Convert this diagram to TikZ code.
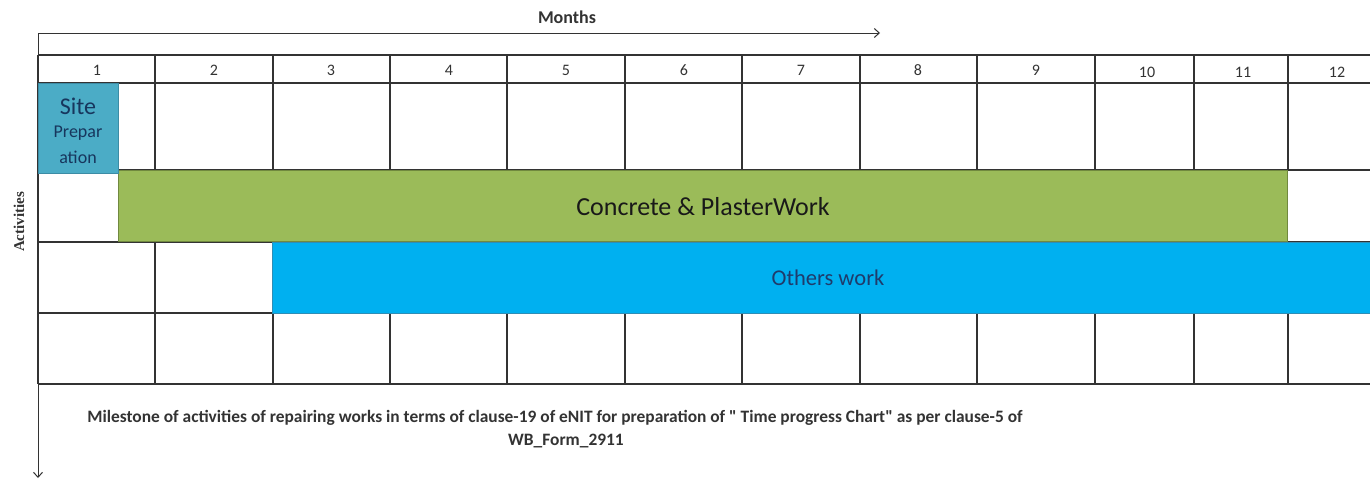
\documentclass[tikz,border=0pt]{standalone}
\usepackage{fontspec}
\setmainfont{Carlito}[Ligatures=TeXOff]
\newfontfamily\serifbold{Liberation Serif}
\usetikzlibrary{arrows.meta}
\definecolor{siteblue}{HTML}{4BACC6}
\definecolor{sitedraw}{HTML}{3C8CA5}
\definecolor{barGreen}{HTML}{9BBB59}
\definecolor{greenDraw}{HTML}{71893F}
\definecolor{barBlue}{HTML}{00B0F0}
\definecolor{blueDraw}{HTML}{2F8DB5}
\definecolor{gridline}{HTML}{333333}
\definecolor{navytext}{HTML}{17365D}
\definecolor{othertext}{HTML}{1F3B6B}
\begin{document}
\begin{tikzpicture}[x=1pt,y=-1pt,
  gridl/.style={draw=gridline,line width=1.3pt},
  axisl/.style={draw=gridline,line width=1pt,-{Straight Barb[length=5pt,width=9pt]}},
  monthlbl/.style={font=\fontsize{16}{18}\selectfont,text=gridline,inner sep=0pt},
  captxt/.style={font=\bfseries\fontsize{17.4}{20}\selectfont,text=gridline,inner sep=0pt},
  barbox/.style={line width=1.3pt,inner sep=0pt,anchor=north west}]
\useasboundingbox (0,0) rectangle (1370,483);
% axes
\coordinate (origin) at (38,33);
\coordinate (xend) at (880,33);
\coordinate (yend) at (38,478);
\draw[axisl] (origin) -- (xend);
\draw[axisl] (origin) -- (yend);
\node[font=\bfseries\fontsize{18}{20}\selectfont,text=gridline] (months) at (567,17) {Months};
\node[rotate=90,font=\serifbold\bfseries\fontsize{15}{17}\selectfont,text=gridline] (acts) at (19,222) {Activities};
% horizontal grid lines
\foreach \yy in {55,83,170,242,313,384}
  \draw[gridl] (38,\yy) -- (1370,\yy);
% vertical grid lines
\foreach \xx in {38,155,273,390,507,625,742,860,977,1095,1194,1288}{
  \draw[gridl] (\xx,55) -- (\xx,170);
  \draw[gridl] (\xx,242) -- (\xx,384);
}
\draw[gridl] (38,170) -- (38,242);
% month labels
\foreach \lbl/\xx/\yy in {1/97/70,2/214/70,3/331/70,4/449/70,5/566/70,6/684/70,7/801/70,8/918/70,9/1036/70,10/1147/72,11/1243/72,12/1337/72}
  \node[monthlbl] (m\lbl) at (\xx,\yy) {\lbl};
% bars
\node[barbox,fill=barGreen,draw=greenDraw,minimum width=1169pt,minimum height=71pt] (concrete) at (118,170) {};
\node[font=\fontsize{26}{30}\selectfont,text=black!90] (concretelbl) at (703,207) {Concrete \& PlasterWork};
\node[barbox,fill=barBlue,draw=blueDraw,minimum width=1110pt,minimum height=71pt] (others) at (272,242) {};
\node[font=\fontsize{22.5}{26}\selectfont,text=othertext] (otherslbl) at (828,278) {Others work};
\node[barbox,fill=siteblue,draw=sitedraw,minimum width=80pt,minimum height=90pt] (site) at (38,83) {};
\node[font=\fontsize{24}{26}\selectfont,text=navytext,inner sep=0pt] (sitelbl) at (78,106) {Site};
\node[font=\fontsize{18}{20}\selectfont,text=navytext,inner sep=0pt] (preplbl) at (78,133) {Prepar};
\node[font=\fontsize{18}{20}\selectfont,text=navytext,inner sep=0pt] (ationlbl) at (78,157) {ation};
% caption
\node[captxt] (caption) at (555,418) {Milestone of activities of repairing works in terms of clause-19 of eNIT for preparation of " Time progress Chart" as per clause-5 of};
\node[captxt] (caption2) at (566,441) {WB\_Form\_2911};
\end{tikzpicture}
\end{document}
